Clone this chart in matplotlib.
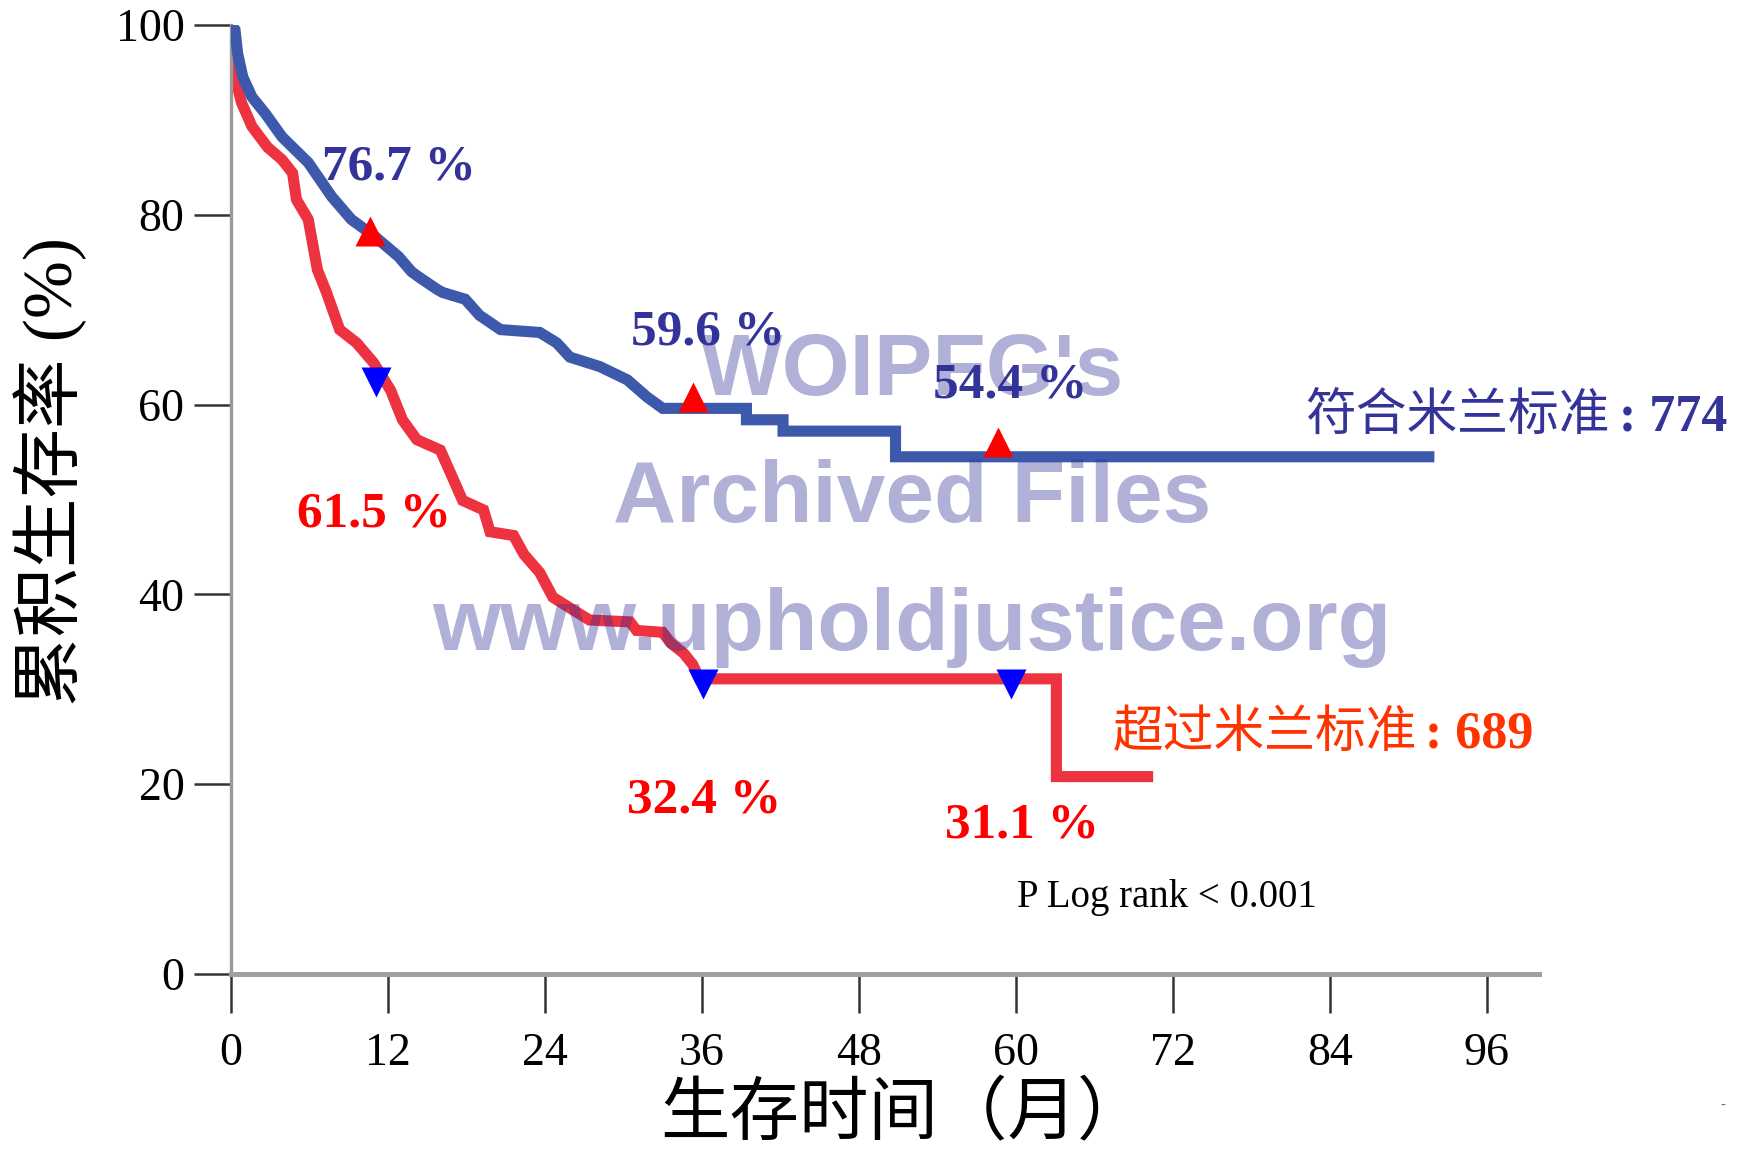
import matplotlib
matplotlib.use('Agg')
import matplotlib.pyplot as plt
from matplotlib import font_manager

# 1. Data
# survival curve, within Milan criteria (blue), months / %
blue_t = [0, 0.3, 0.5, 0.9, 1.6, 2.6, 3.9, 5.9, 7.7, 9.2, 11.0, 12.8, 13.8, 14.4, 15.8, 16.2, 17.9,
          19.0, 20.6, 23.6, 24.9, 25.9, 28.2, 30.3, 31.8, 33.0, 39.4, 39.4, 42.2, 42.2, 50.8, 50.8, 92.0]
blue_s = [100, 99.5, 97.0, 94.5, 92.4, 90.7, 88.2, 85.5, 81.9, 79.5, 77.7, 75.6, 74.0, 73.4, 72.1, 71.8, 71.1,
          69.4, 67.9, 67.6, 66.5, 65.0, 64.0, 62.6, 60.8, 59.6, 59.6, 58.4, 58.4, 57.2, 57.2, 54.5, 54.5]

# survival curve, beyond Milan criteria (red)
red_t = [0, 0.3, 0.8, 1.6, 2.8, 3.9, 4.7, 5.0, 5.9, 6.6, 7.3, 8.3, 9.6, 10.9, 12.2, 13.1, 14.2, 16.0,
         17.0, 17.7, 19.3, 19.8, 21.6, 22.4, 23.6, 24.6, 26.1, 27.4, 30.5, 31.0, 33.0, 33.6, 34.6, 35.3,
         35.8, 63.1, 63.1, 70.5]
red_s = [100, 94.5, 91.8, 89.3, 87.1, 85.8, 84.4, 81.6, 79.5, 74.2, 71.8, 67.9, 66.5, 64.4, 61.5, 58.4, 56.3, 55.2,
         52.1, 49.9, 48.9, 46.6, 46.2, 44.2, 42.3, 39.7, 38.4, 37.3, 37.1, 36.2, 36.0, 34.9, 33.8, 32.6,
         31.1, 31.1, 20.8, 20.8]

# 1/3/5 year markers
up_t = [10.6, 35.3, 58.6]
up_s = [78.3, 60.8, 56.1]
down_t = [11.1, 36.1, 59.6]
down_s = [62.4, 30.6, 30.6]

# rate labels
blue_labels = ['76.7 %', '59.6 %', '54.4 %']
blue_label_x = [6.96, 30.6, 53.7]
blue_label_y = [83.7, 66.3, 60.7]
red_labels = ['61.5 %', '32.4 %', '31.1 %']
red_label_x = [5.04, 30.3, 54.6]
red_label_y = [47.1, 17.0, 14.4]

x_ticks = [0, 12, 24, 36, 48, 60, 72, 84, 96]
y_ticks = [0, 20, 40, 60, 80, 100]

SERIF = 'Liberation Serif'
CJK = 'Noto Sans CJK SC'
names = {f.name for f in font_manager.fontManager.ttflist}
WM_FONT = 'Liberation Sans Narrow' if 'Liberation Sans Narrow' in names else 'Liberation Sans'
WM_SIZE = 76 if WM_FONT == 'Liberation Sans Narrow' else 63

# 2. Figure
fig = plt.figure(figsize=(17.4, 11.51), dpi=100)
ax = fig.add_axes([0.1328, 0.1538, 0.7517, 0.8245])

ax.plot(blue_t, blue_s, color='#3D59AB', lw=8, solid_capstyle='butt', solid_joinstyle='miter', zorder=3)
ax.plot(red_t, red_s, color='#EE3340', lw=8, solid_capstyle='butt', solid_joinstyle='miter', zorder=2)
ax.plot(up_t, up_s, ls='none', marker='^', ms=22.3, color='#FF0000', mec='none', zorder=4)
ax.plot(down_t, down_s, ls='none', marker='v', ms=22.3, color='#0000FF', mec='none', zorder=4)

for t, x, y in zip(blue_labels, blue_label_x, blue_label_y):
    ax.text(x, y, t, color='#333399', fontsize=37, fontweight='bold', family=SERIF, va='baseline')
for t, x, y in zip(red_labels, red_label_x, red_label_y):
    ax.text(x, y, t, color='#FF0000', fontsize=37, fontweight='bold', family=SERIF, va='baseline')

# group labels
ax.text(82.1, 57.3, '符合米兰标准', color='#333399', fontsize=36.5, family=CJK, va='baseline')
ax.text(106.1, 57.3, ': 774', color='#333399', fontsize=37.5, fontweight='bold', family=SERIF, va='baseline')
ax.text(67.4, 23.9, '超过米兰标准', color='#FF3300', fontsize=36.5, family=CJK, va='baseline')
ax.text(91.3, 23.9, ': 689', color='#FF3300', fontsize=37.5, fontweight='bold', family=SERIF, va='baseline')

ax.text(60.1, 7.06, 'P Log rank < 0.001', color='black', fontsize=28, family=SERIF, va='baseline')

# 3. Axes formatting
ax.set_xlim(0, 100)
ax.set_ylim(0, 100)
ax.set_xticks(x_ticks)
ax.set_yticks(y_ticks)
for s in ['top', 'right']:
    ax.spines[s].set_visible(False)
ax.spines['left'].set_color('#999999')
ax.spines['left'].set_linewidth(2.4)
ax.spines['bottom'].set_color('#A0A0A0')
ax.spines['bottom'].set_linewidth(3.6)
ax.tick_params(axis='x', direction='out', length=28, width=1.8, color='#333333', pad=14)
ax.tick_params(axis='y', direction='out', length=26.6, width=1.8, color='#333333', pad=7)
for lab in ax.get_xticklabels() + ax.get_yticklabels():
    lab.set_fontfamily(SERIF)
    lab.set_fontsize(33)

fig.text(0.029, 0.590, '累积生存率 (%)', rotation=90, ha='center', va='center',
         fontsize=50, family=[SERIF, CJK])
fig.text(0.519, 0.0148, '生存时间（月）', ha='center', va='baseline', fontsize=50, family=CJK)
fig.text(0.99, 0.039, '-', ha='center', va='center', fontsize=10, color='#666666')

# watermark
for txt, yb in zip(["WOIPFG's", 'Archived Files', 'www.upholdjustice.org'], [395, 522, 650]):
    fig.text(912 / 1740, 1 - yb / 1151, txt, ha='center', va='baseline', fontsize=WM_SIZE,
             fontweight='bold', family=WM_FONT, color='#323296', alpha=0.375, zorder=10)

# 4. Save
fig.savefig('out.png', dpi=100)
